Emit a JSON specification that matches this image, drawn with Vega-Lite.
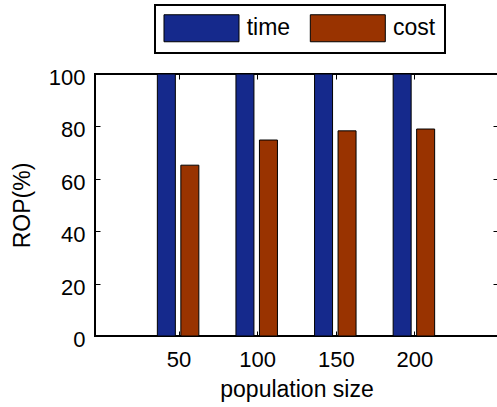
{
  "$schema": "https://vega.github.io/schema/vega-lite/v6.json",
  "width": 403,
  "height": 262,
  "autosize": {"type": "none"},
  "padding": {"left": 95, "top": 74, "right": 0, "bottom": 71},
  "background": "white",
  "config": {
    "view": {"stroke": "black", "strokeWidth": 2},
    "font": "Liberation Sans",
    "axis": {
      "domain": false,
      "grid": false,
      "tickColor": "black",
      "tickSize": -5,
      "tickWidth": 1,
      "labelColor": "black",
      "labelFontSize": 22,
      "labelFont": "Liberation Sans",
      "labelPadding": 15,
      "titleFont": "Liberation Sans",
      "titleFontSize": 23,
      "titleFontWeight": "normal",
      "titleColor": "black"
    }
  },
  "data": {
    "values": [
      {"size": 50, "series": "time", "value": 100},
      {"size": 100, "series": "time", "value": 100},
      {"size": 150, "series": "time", "value": 100},
      {"size": 200, "series": "time", "value": 100},
      {"size": 50, "series": "cost", "value": 65.2},
      {"size": 100, "series": "cost", "value": 74.8},
      {"size": 150, "series": "cost", "value": 78.3},
      {"size": 200, "series": "cost", "value": 79.0}
    ]
  },
  "layer": [
    {
      "transform": [{"filter": "datum.series === 'time'"}],
      "mark": {"type": "bar", "orient": "vertical", "size": 18, "xOffset": -12.25, "stroke": "black", "strokeWidth": 1},
      "encoding": {
        "x": {
          "field": "size", "type": "quantitative",
          "scale": {"domain": [0, 250], "nice": false, "zero": false},
          "axis": {"orient": "bottom", "values": [50, 100, 150, 200], "title": "population size", "labelPadding": 18, "titlePadding": 8}
        },
        "y": {
          "field": "value", "type": "quantitative",
          "scale": {"domain": [0, 100], "nice": false},
          "axis": {"orient": "left", "values": [0, 20, 40, 60, 80, 100], "title": "ROP(%)", "titlePadding": 14, "labelOffset": 3.4}
        },
        "color": {
          "field": "series", "type": "nominal",
          "scale": {"domain": ["time", "cost"], "range": ["#15298c", "#993300"]},
          "legend": {
            "orient": "none",
            "legendX": 60,
            "legendY": -69,
            "direction": "horizontal",
            "title": null,
            "padding": 9,
            "strokeColor": "black",
            "fillColor": "white",
            "symbolType": "M-2.778,-1 L2.778,-1 L2.778,1 L-2.778,1 Z",
            "symbolSize": 729,
            "symbolStrokeColor": "black",
            "symbolStrokeWidth": 1,
            "symbolOffset": 23.5,
            "symbolOpacity": 1,
            "labelOffset": 31.2,
            "labelFontSize": 23,
            "labelFont": "Liberation Sans",
            "labelColor": "black",
            "columnPadding": 16.3,
            "encode": {"legend": {"update": {"strokeWidth": {"value": 2}}}}
          }
        }
      }
    },
    {
      "transform": [{"filter": "datum.series === 'cost'"}],
      "mark": {"type": "bar", "orient": "vertical", "size": 18, "xOffset": 11.25, "stroke": "black", "strokeWidth": 1},
      "encoding": {
        "x": {"field": "size", "type": "quantitative", "axis": null},
        "y": {"field": "value", "type": "quantitative", "axis": null},
        "color": {"field": "series", "type": "nominal"}
      }
    },
    {
      "mark": {"type": "point", "opacity": 0},
      "encoding": {
        "x": {"field": "size", "type": "quantitative", "axis": {"orient": "top", "values": [50, 100, 150, 200], "labels": false, "title": null}},
        "y": {"field": "value", "type": "quantitative", "axis": {"orient": "right", "values": [0, 20, 40, 60, 80, 100], "labels": false, "title": null}}
      }
    }
  ],
  "resolve": {"axis": {"x": "independent", "y": "independent"}}
}
